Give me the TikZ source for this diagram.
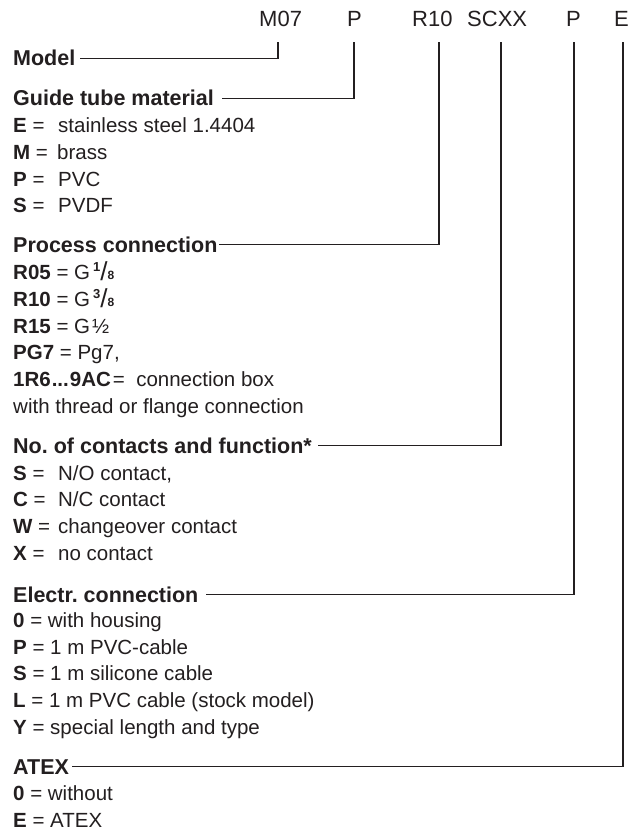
\documentclass[tikz,border=0pt]{standalone}
\usepackage{fontspec}
\setmainfont{Liberation Sans}
\definecolor{ink}{HTML}{231F20}
\newcommand{\ent}[3]{\makebox[#1][l]{\textbf{#2} =}#3}
\newcommand{\gfrac}[1]{\raisebox{7.5pt}{\fontsize{13}{13}\selectfont\bfseries #1}\raisebox{-1pt}{\fontsize{26}{26}\selectfont /}{\fontsize{12}{12}\selectfont\bfseries 8}}
\begin{document}
\frenchspacing
\begin{tikzpicture}[x=1pt,y=-1pt,
  txt/.style={anchor=base west, inner sep=0pt, text=ink, font=\fontsize{20.5}{24}\selectfont},
  head/.style={anchor=base west, inner sep=0pt, text=ink, font=\fontsize{21.5}{24}\selectfont\bfseries, text height=15pt, text depth=0pt},
  codetxt/.style={anchor=base west, inner sep=0pt, text=ink, font=\fontsize{22}{26}\selectfont},
  conn/.style={draw=ink, line width=1.3pt}]
\useasboundingbox[fill=white] (0,0) rectangle (640,832);

% top code row
\node[codetxt] (c1) at (259,27) {M07};
\node[codetxt] (c2) at (347,27) {P};
\node[codetxt] (c3) at (412,27) {R10};
\node[codetxt] (c4) at (467,27) {SCXX};
\node[codetxt] (c5) at (566,27) {P};
\node[codetxt] (c6) at (614,27) {E};

\coordinate (t1) at (278,42.5);
\coordinate (t2) at (354,42.5);
\coordinate (t3) at (439,42.5);
\coordinate (t4) at (501,42.5);
\coordinate (t5) at (574,42.5);
\coordinate (t6) at (623,42.5);

% headings
\node[head] (h1) at (13,66)  {\makebox[67pt][l]{Model}};
\node[head] (h2) at (13,106) {\makebox[209pt][l]{Guide tube material}};
\node[head] (h3) at (13,252) {\makebox[206pt][l]{Process connection}};
\node[head] (h4) at (13,453) {\makebox[305pt][l]{No. of contacts and function*}};
\node[head] (h5) at (13,602) {\makebox[193pt][l]{Electr. connection}};
\node[head] (h6) at (13,774) {\makebox[59pt][l]{ATEX}};

% connectors
\draw[conn] (t1) |- (h1.east);
\draw[conn] (t2) |- (h2.east);
\draw[conn] (t3) |- (h3.east);
\draw[conn] (t4) |- (h4.east);
\draw[conn] (t5) |- (h5.east);
\draw[conn] (t6) |- (h6.east);

% guide tube material
\node[txt] (g1) at (13,132.7) {\ent{45pt}{E}{stainless steel 1.4404}};
\node[txt] (g2) at (13,159.3) {\ent{44pt}{M}{brass}};
\node[txt] (g3) at (13,186)   {\ent{45pt}{P}{PVC}};
\node[txt] (g4) at (13,212.7) {\ent{45pt}{S}{PVDF}};

% process connection
\node[txt] (p1) at (13,279) {\textbf{R05} = G\kern3pt\gfrac{1}};
\node[txt] (p2) at (13,306) {\textbf{R10} = G\kern3pt\gfrac{3}};
\node[txt] (p3) at (13,333) {\textbf{R15} = G\kern2pt½};
\node[txt] (p4) at (13,359.5) {\textbf{PG7} = Pg7,};
\node[txt] (p5) at (13,386) {\textbf{1R6\kern1pt...\kern1pt9AC}\kern2pt=\ \ connection box};
\node[txt] (p6) at (13,413) {with thread or flange connection};

% contacts
\node[txt] (k1) at (13,480)   {\ent{45pt}{S}{N/O contact,}};
\node[txt] (k2) at (13,506.7) {\ent{45pt}{C}{N/C contact}};
\node[txt] (k3) at (13,533.3) {\ent{45pt}{W}{changeover contact}};
\node[txt] (k4) at (13,560)   {\ent{45pt}{X}{no contact}};

% electrical connection
\node[txt] (e1) at (13,627)   {\textbf{0} = with housing};
\node[txt] (e2) at (13,654)   {\textbf{P} = 1 m PVC-cable};
\node[txt] (e3) at (13,680.5) {\textbf{S} = 1 m silicone cable};
\node[txt] (e4) at (13,707)   {\textbf{L} = 1 m PVC cable (stock model)};
\node[txt] (e5) at (13,734)   {\textbf{Y} = special length and type};

% ATEX
\node[txt] (a1) at (13,800.5) {\textbf{0} = without};
\node[txt] (a2) at (13,827)   {\textbf{E} = ATEX};
\end{tikzpicture}
\end{document}
